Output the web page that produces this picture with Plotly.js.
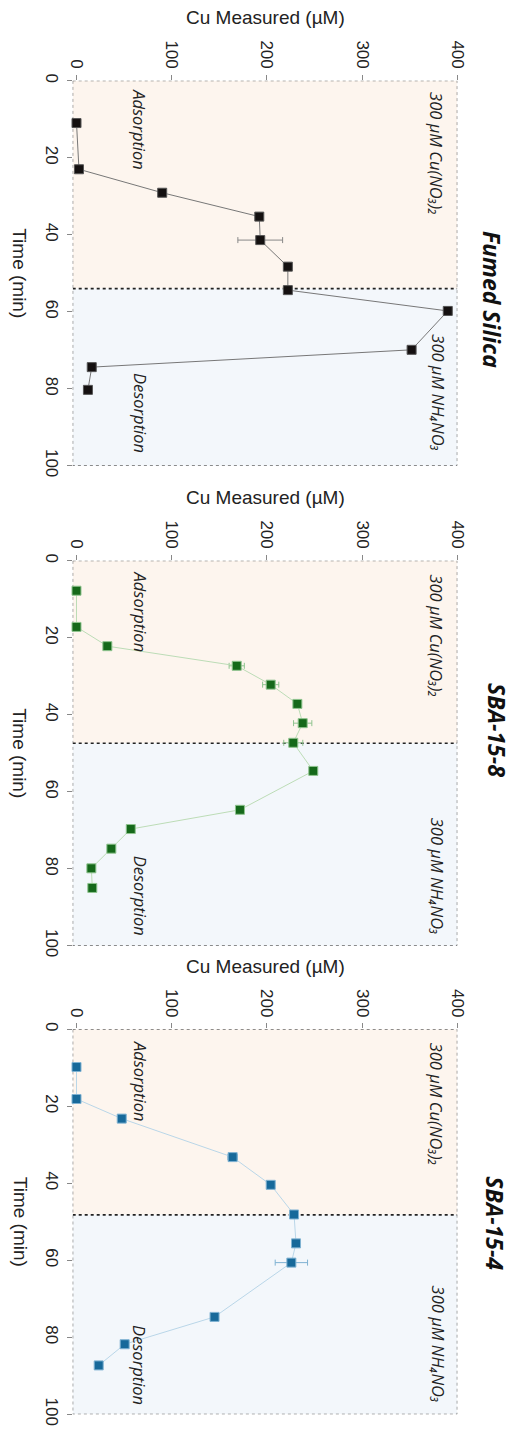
<!DOCTYPE html>
<html>
<head>
<meta charset="utf-8">
<script src="https://cdn.plot.ly/plotly-3.0.1.min.js"></script>
<style>html,body{margin:0;padding:0;background:#fff;}#chart{width:513px;height:1431px;}</style>
</head>
<body>
<div id="chart"></div>
<script>
// ---- data ----
const panelTitles = ["Fumed Silica", "SBA-15-8", "SBA-15-4"];
const boundaryTimes = [54, 47.4, 48.2];

const timeFumed = [11.0, 23.0, 29.1, 35.3, 41.4, 48.3, 54.4, 59.8, 69.9, 74.4, 80.3];
const cuFumed   = [0, 2.6, 90, 192, 193, 222, 222, 390, 352, 16, 12];
const errFumed  = [0, 0, 0, 0, 23.5, 0, 0, 0, 0, 0, 0];

const timeSBA8 = [7.8, 17.2, 22.2, 27.3, 32.2, 37.2, 42.2, 47.3, 54.6, 64.7, 69.7, 74.8, 79.9, 85.0];
const cuSBA8   = [0, 0, 32.4, 168.3, 204, 232, 237.6, 227.7, 248.7, 171.7, 57, 36.6, 15.6, 16.6];
const errSBA8  = [0, 0, 0, 8, 8.5, 0, 9.6, 10, 0, 0, 0, 0, 0, 0];

const timeSBA4 = [9.8, 18.1, 23.2, 33.2, 40.4, 48.1, 55.6, 60.6, 74.7, 81.8, 87.3];
const cuSBA4   = [0, 0, 47.5, 164, 204, 228.5, 230.6, 225.7, 145, 50.6, 23.3];
const errSBA4  = [0, 0, 0, 5, 0, 0, 0, 17, 0, 0, 0];

const cuTicks = [0, 100, 200, 300, 400];
const timeTicks = [0, 20, 40, 60, 80, 100];
const cuLabel = "Cu Measured (µM)";
const timeLabel = "Time (min)";
const adsLabel = "Adsorption";
const desLabel = "Desorption";
const cuSolLabel = "300 µM Cu(NO₃)₂";
const nhSolLabel = "300 µM NH₄NO₃";

// ---- styling / layout ----
const H = 1431, W = 513;
const py = p => 1 - p / H;
const px = p => p / W;
const panelTop = [80.7, 560.7, 1029.3];
const panelH = 385;
const xDom = [px(72.7), px(457.3)];

const series = [
  {t: timeFumed, c: cuFumed, e: errFumed, mk: '#141010', ml: '#555', ln: '#777777', er: '#888888'},
  {t: timeSBA8, c: cuSBA8, e: errSBA8, mk: '#15691a', ml: '#8fc48f', ln: '#bcdcb6', er: '#8fc48f'},
  {t: timeSBA4, c: cuSBA4, e: errSBA4, mk: '#17699a', ml: '#7fb2d2', ln: '#b9d6e8', er: '#7fb2d2'}
];
const titleY = [56.7, 44, 50.4];
const titleX = [492, 497, 495];
const adsT = [12.6, 13.2, 13.4], cuSolT = [18.9, 19.5, 19.4];
const desT = [86.3, 87, 87.2], nhSolT = [81, 81.9, 81.7];

const traces = [];
const shapes = [];
const annotations = [];
const layout = {
  width: W, height: H, margin: {l: 0, r: 0, t: 0, b: 0},
  paper_bgcolor: '#fff', plot_bgcolor: 'rgba(0,0,0,0)', showlegend: false,
  font: {family: 'Liberation Sans, Arial, sans-serif', color: '#222'}
};

function ann(o) {
  return Object.assign({showarrow: false, xanchor: 'center', yanchor: 'middle'}, o);
}

series.forEach((s, i) => {
  const n = i === 0 ? '' : String(i + 1);
  const xa = 'x' + n, ya = 'y' + n;
  traces.push({
    type: 'scatter', mode: 'lines+markers', x: s.c, y: s.t, xaxis: xa, yaxis: ya,
    line: {color: s.ln, width: 1},
    marker: {symbol: 'square', size: 9, color: s.mk, line: {color: s.ml, width: 1}},
    error_x: {type: 'data', array: s.e, visible: true, color: s.er, thickness: 1, width: 3},
    cliponaxis: false, hoverinfo: 'skip'
  });
  const top = panelTop[i], bot = top + panelH;
  layout['xaxis' + n] = {
    domain: xDom, anchor: ya, side: 'top', range: [-4, 400],
    tickvals: cuTicks, ticktext: cuTicks.map(String), tickangle: 90,
    ticks: 'outside', ticklen: 5, tickcolor: '#888', tickwidth: 1,
    showgrid: false, zeroline: false, showline: false,
    tickfont: {size: 17, color: '#222', family: 'Liberation Sans, Arial, sans-serif'}
  };
  layout['yaxis' + n] = {
    domain: [py(bot), py(top)], anchor: xa, range: [100, 0],
    tickvals: timeTicks, ticktext: timeTicks.map(String), tickangle: 90,
    ticks: 'outside', ticklen: 5, tickcolor: '#888', tickwidth: 1,
    showgrid: false, zeroline: false, showline: false,
    tickfont: {size: 17, color: '#222', family: 'Liberation Sans, Arial, sans-serif'}
  };
  const b = boundaryTimes[i];
  shapes.push({type: 'rect', xref: xa, yref: ya, x0: -4, x1: 400, y0: 0, y1: b,
    fillcolor: '#fdf5ee', line: {width: 0}, layer: 'below'});
  shapes.push({type: 'rect', xref: xa, yref: ya, x0: -4, x1: 400, y0: b, y1: 100,
    fillcolor: '#f3f7fb', line: {width: 0}, layer: 'below'});
  shapes.push({type: 'rect', xref: xa, yref: ya, x0: -4, x1: 400, y0: 0, y1: 100,
    fillcolor: 'rgba(0,0,0,0)', line: {color: '#444', width: 1, dash: 'dot'}, layer: 'below'});
  shapes.push({type: 'line', xref: xa, yref: ya, x0: -4, x1: 400, y0: b, y1: b,
    line: {color: '#222', width: 1.6, dash: 'dot'}, layer: 'below'});

  const it = {family: 'Open Sans, sans-serif', size: 16.5, color: '#222', style: 'italic'};
  annotations.push(ann({xref: xa, yref: ya, x: 66.7, y: adsT[i], text: adsLabel, textangle: 90, font: it}));
  annotations.push(ann({xref: xa, yref: ya, x: 66.7, y: desT[i], text: desLabel, textangle: 90, font: it}));
  annotations.push(ann({xref: xa, yref: ya, x: 378, y: cuSolT[i], text: cuSolLabel, textangle: 90, font: it}));
  annotations.push(ann({xref: xa, yref: ya, x: 380, y: nhSolT[i], text: nhSolLabel, textangle: 90, font: it}));
  annotations.push(ann({xref: 'paper', yref: ya, x: px(titleX[i]), y: titleY[i], text: panelTitles[i], textangle: 90,
    font: {family: 'Open Sans, sans-serif', size: 23, color: '#111', weight: 'bold', style: 'italic'}}));
  annotations.push(ann({xref: 'paper', yref: 'paper', x: px(265), y: py(top - 63), text: cuLabel,
    font: {family: 'Liberation Sans, Arial, sans-serif', size: 19, color: '#222'}}));
  annotations.push(ann({xref: 'paper', yref: ya, x: px(20), y: 50, text: timeLabel, textangle: 90,
    font: {family: 'Liberation Sans, Arial, sans-serif', size: 19, color: '#222'}}));
});

layout.shapes = shapes;
layout.annotations = annotations;
Plotly.newPlot('chart', traces, layout, {staticPlot: true});
</script>
</body>
</html>
